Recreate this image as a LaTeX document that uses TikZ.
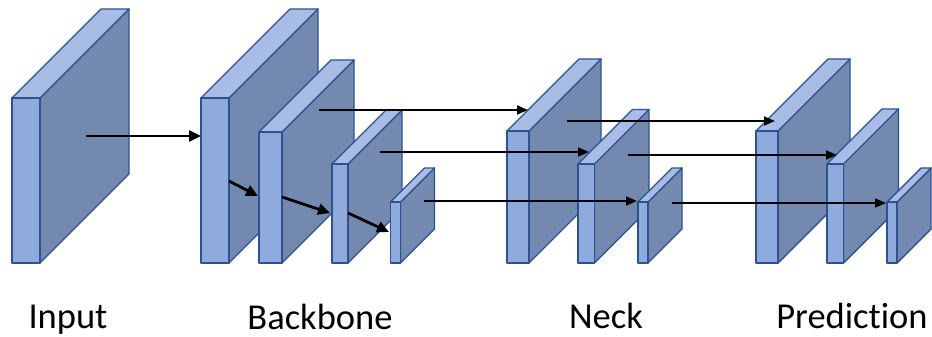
\documentclass[tikz,border=0pt]{standalone}
\usepackage{fontspec}
\setmainfont{Carlito}[Ligatures=NoCommon]
\usetikzlibrary{arrows.meta}

\definecolor{facefront}{RGB}{143,170,220}
\definecolor{facetop}{RGB}{168,189,230}
\definecolor{faceside}{RGB}{115,137,176}
\definecolor{faceedge}{RGB}{47,82,143}

\tikzset{
  slabface/.style={draw=faceedge, line width=1.4pt, line join=round},
  slabfront/.style={slabface, fill=facefront, rectangle, inner sep=0pt, outer sep=0pt},
  thickarrow/.style={line width=2.8pt, -{Triangle[length=12pt,width=11pt]}},
  thinarrow/.style={line width=1.9pt, -{Triangle[length=11pt,width=9pt]}},
  caption/.style={font=\fontsize{36.5}{44}\selectfont, anchor=base, inner sep=0pt},
}

% \featslab{name}{x}{y}{front width}{height}{depth}
% (x,y) is the top-left corner of the front face; depth runs up and to the right.
\newcommand\featslab[6]{%
  \path[slabface, fill=faceside]
    (#2+#4,#3) -- (#2+#4+#6,#3-#6) -- (#2+#4+#6,#3+#5-#6) -- (#2+#4,#3+#5) -- cycle;
  \path[slabface, fill=facetop]
    (#2,#3) -- (#2+#6,#3-#6) -- (#2+#4+#6,#3-#6) -- (#2+#4,#3) -- cycle;
  \node[slabfront, minimum width=#4pt, minimum height=#5pt, anchor=north west]
    (#1) at (#2,#3) {};%
}

\begin{document}
\begin{tikzpicture}[x=1pt, y=-1pt]
  \useasboundingbox (0,0) rectangle (932,337);

  % input
  \featslab{in}{12}{98}{28}{165}{89}

  % backbone
  \featslab{bb1}{201}{98}{28}{165}{89}
  \featslab{bb2}{259}{132}{23}{131}{72}
  \featslab{bb3}{332}{164}{16}{99}{54}
  \featslab{bb4}{390.5}{202}{10}{61}{34}

  % neck
  \featslab{nk1}{507}{131}{22}{132}{72}
  \featslab{nk2}{578}{164}{16.5}{99}{54.5}
  \featslab{nk3}{638}{202}{10}{61}{34}

  % prediction
  \featslab{pr1}{756}{131}{22}{132}{72}
  \featslab{pr2}{827}{164}{16.5}{99}{55}
  \featslab{pr3}{887}{202}{10}{61}{34}

  % arrow end points on the faces
  \coordinate (in-out)  at (86,136);
  \coordinate (bb1-out) at (229,181);
  \coordinate (bb2-in)  at (258,196);
  \coordinate (bb2-out) at (282,197);
  \coordinate (bb3-in)  at (330,213);
  \coordinate (bb3-out) at (348,213);
  \coordinate (bb4-in)  at (389,232);

  \coordinate (bb2-side) at (319,110);
  \coordinate (bb3-side) at (380,152);
  \coordinate (bb4-side) at (424,201);
  \coordinate (nk1-in)   at (528,110);
  \coordinate (nk2-in)   at (589,152);
  \coordinate (nk3-in)   at (637,201);

  \coordinate (nk1-side) at (567,121);
  \coordinate (nk2-side) at (628,155);
  \coordinate (nk3-side) at (672,203);
  \coordinate (pr1-in)   at (775,121);
  \coordinate (pr2-in)   at (837,155);
  \coordinate (pr3-in)   at (886,203);

  % input into backbone, and down the backbone
  \draw[thickarrow] (in-out) -- (in-out -| bb1.west);
  \draw[thickarrow] (bb1-out) -- (bb2-in);
  \draw[thickarrow] (bb2-out) -- (bb3-in);
  \draw[thickarrow] (bb3-out) -- (bb4-in);

  % backbone to neck
  \draw[thinarrow] (bb2-side) -- (nk1-in);
  \draw[thinarrow] (bb3-side) -- (nk2-in);
  \draw[thinarrow] (bb4-side) -- (nk3-in);

  % neck to prediction
  \draw[thinarrow] (nk1-side) -- (pr1-in);
  \draw[thinarrow] (nk2-side) -- (pr2-in);
  \draw[thinarrow] (nk3-side) -- (pr3-in);

  % captions
  \node[caption] (cap-in) at (68,328) {Input};
  \node[caption] (cap-bb) at (320,329) {Backbone};
  \node[caption] (cap-nk) at (606,328) {Neck};
  \node[caption] (cap-pr) at (852,328) {Prediction};
\end{tikzpicture}
\end{document}
